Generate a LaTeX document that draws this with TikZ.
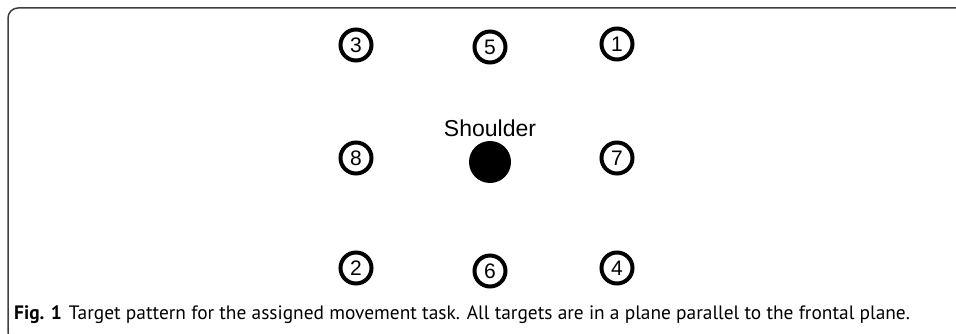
\documentclass[tikz,border=0pt]{standalone}
\usepackage{fontspec}
\setmainfont{Liberation Sans}
\newfontfamily\capfont{PT Sans}
\tikzset{
  target/.style={circle, draw=black, line width=4pt, minimum size=31pt, inner sep=0pt, font=\fontsize{21}{23}\selectfont},
  shoulderdot/.style={circle, fill=black, minimum size=42pt, inner sep=0pt},
  frameline/.style={draw=black!75, line width=1.5pt, rounded corners=10pt}
}
\begin{document}
\begin{tikzpicture}[x=1pt,y=-1pt]
\useasboundingbox (0,0) rectangle (956,334);
\fill[white] (0,0) rectangle (956,334);
\draw[frameline] (975,8) -- (8,8) -- (8,342) -- (975,342);
\node[target] (t3) at (356,45) {3};
\node[target] (t5) at (490,47) {5};
\node[target] (t1) at (617,44) {1};
\node[target] (t8) at (356,158) {8};
\node[shoulderdot] (sh) at (490,162) {};
\node[font=\fontsize{23}{25}\selectfont] (shtext) at (490,128) {Shoulder};
\node[target] (t7) at (617,158) {7};
\node[target] (t2) at (356,268) {2};
\node[target] (t6) at (490,271) {6};
\node[target] (t4) at (617,268) {4};
\node[anchor=base west, inner sep=0pt, font=\capfont\fontsize{19.4}{21}\selectfont] (cap) at (14,319) {\textbf{Fig. 1}\hspace{7pt}Target pattern for the assigned movement task. All targets are in a plane parallel to the frontal plane.};
\end{tikzpicture}
\end{document}
